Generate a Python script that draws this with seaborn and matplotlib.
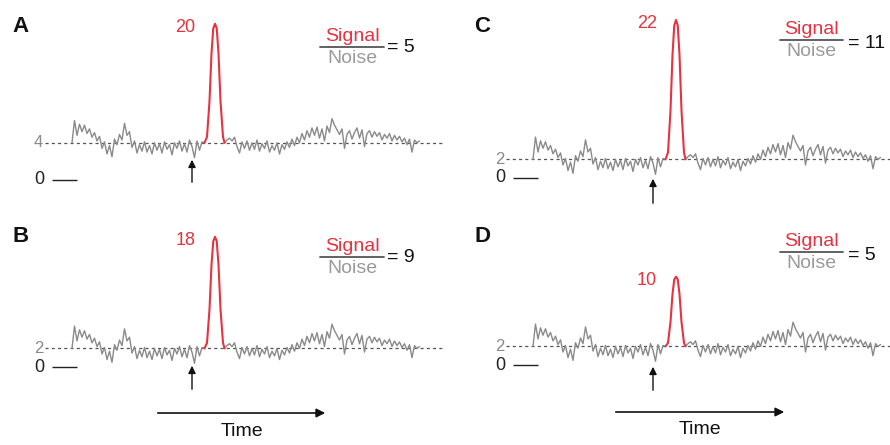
import numpy as np
import pandas as pd
import matplotlib
matplotlib.use('Agg')
import matplotlib.pyplot as plt
import seaborn as sns
from matplotlib.lines import Line2D
from matplotlib.patches import FancyArrowPatch

# --- data ---
panel_letters = ['A', 'B', 'C', 'D']
baselines = [4, 2, 2, 2]            # noise level (dashed line)
peak_labels = [20, 18, 22, 10]      # numbers written beside the peaks
peak_tops = [16.8, 14.0, 17.0, 9.5] # drawn height of the red peak
ratios = [5, 9, 11, 5]              # signal / noise

# noise around the baseline, one sample every time step (same trace in all panels)
noise_pre = [0.0, 2.4, 0.8, 2.0, 1.2, 1.9, 1.0, 1.5, 0.6, 1.1,
             0.2, 0.7, -0.6, 0.1, -1.2, -0.3, -1.5, 0.4, -0.2, 0.9,
             0.3, 2.1, 0.8, 1.2, -0.5, 0.2, -1.1, -0.2, -0.9, 0.1,
             -1.0, -0.3, -1.2, 0.0, -0.8, -0.1, -1.1, 0.1, -0.7, -0.2,
             -1.3, 0.0, -0.6, 0.2, -0.9, -0.1, -1.0, 0.3, -0.4, -1.6,
             0.2, -0.8, 0.1, 0.0]
noise_post = [0.0, 0.3, 0.5, 0.2, 0.6, -0.4, -1.1, 0.1, -0.6, 0.2,
              -0.8, 0.0, -0.7, 0.3, -0.9, -0.1, -0.6, 0.2, -1.0, -0.3,
              -0.8, 0.0, -1.2, -0.2, -0.7, 0.1, -0.5, 0.4, -0.3, 0.6,
              0.0, 1.0, 0.3, 1.3, 0.6, 1.6, 0.8, 1.7, 0.5, 1.5,
              0.2, 1.8, 1.1, 2.6, 1.9, 1.4, 0.9, 1.5, -0.6, 0.9,
              1.3, 0.4, 1.1, 1.6, 0.5, 1.4, -0.4, 1.0, 1.3, 0.6,
              1.2, 0.7, 1.1, 0.3, 0.9, 0.5, 1.0, 0.2, 0.8, 0.3,
              0.7, 0.1, 0.5, -0.2, 0.4, -1.0, 0.3, 0.0, 0.2]
post_start = 61

# red peak (fraction of its height above the baseline)
peak_t = [53, 54, 55, 55.8, 56.5, 57.2, 57.9, 58.6, 59.4, 60.4, 61]
peak_shape = [0.0, 0.05, 0.35, 0.75, 0.96, 1.0, 0.96, 0.75, 0.35, 0.05, 0.0]

arrow_t = 48

# --- layout (figure pixels) ---
W, H = 890, 445
ppu = 9.3                                   # pixels per unit
x_off = [0, 0, 461, 461]
zero_px = [180, 367, 178, 365]
letter_xy = [(12, 26), (12, 236), (474, 26), (474, 236)]
frac_x = [(320, 384), (320, 384), (780, 843), (780, 843)]
frac_y = [47, 257, 40, 252]
eq_xy = [(387, 48), (387, 258), (848, 44), (848, 256)]
up_arrow = [(157, 185), (363, 392), (176, 206), (364, 393)]
time_arrow = [((155, 328), 413, 432), ((613, 787), 412, 430)]

gray = '#8a8a8a'
red = '#e8323f'


def fx(x):
    return x / W


def fy(y):
    return 1 - y / H


sns.set_style('white')
plt.rcParams['font.family'] = ['Liberation Sans', 'DejaVu Sans']

fig = plt.figure(figsize=(W / 100, H / 100), dpi=100)

ymin, ymax = -3.5, 19
xmin, xmax = -28.8, 149.2
for k in range(4):
    base = baselines[k]
    bottom = zero_px[k] + (-ymin) * ppu
    height = (ymax - ymin) * ppu
    ax = fig.add_axes([fx(x_off[k]), fy(bottom), 445 / W, height / H])
    ax.set_facecolor('none')

    pre = pd.DataFrame({'t': np.arange(len(noise_pre)),
                        'y': base + np.array(noise_pre)})
    post = pd.DataFrame({'t': post_start + np.arange(len(noise_post)),
                         'y': base + np.array(noise_post)})
    pk = pd.DataFrame({'t': peak_t,
                       'y': base + np.array(peak_shape) * (peak_tops[k] - base)})

    ax.hlines(base, -11, 149.2, colors='#555555', linewidth=0.9,
              linestyles=(0, (2.5, 2.5)), zorder=1)
    sns.lineplot(data=pre, x='t', y='y', ax=ax, color=gray, linewidth=1.0, sort=False, zorder=2)
    sns.lineplot(data=post, x='t', y='y', ax=ax, color=gray, linewidth=1.0, sort=False, zorder=2)
    sns.lineplot(data=pk, x='t', y='y', ax=ax, color=red, linewidth=1.5, sort=False, zorder=3)

    # zero mark
    ax.hlines(0, -8, 2, colors='#222222', linewidth=1.0)
    ax.text(-11, 0, '0', ha='right', va='center', fontsize=13, color='#222222')
    ax.text(-11.5, base, str(base), ha='right', va='center', fontsize=12, color=gray)

    # peak value
    ax.text(49.5, peak_tops[k] - 0.4, str(peak_labels[k]), ha='right', va='center',
            fontsize=13, color=red)

    ax.set_xlim(xmin, xmax)
    ax.set_ylim(ymin, ymax)
    ax.axis('off')

    # panel letter
    fig.text(fx(letter_xy[k][0]), fy(letter_xy[k][1]), panel_letters[k],
             fontsize=16, fontweight='bold', ha='left', va='center', color='#111111')

    # signal / noise fraction
    x0, x1 = frac_x[k]
    yb = frac_y[k]
    fig.add_artist(Line2D([fx(x0), fx(x1)], [fy(yb), fy(yb)], color='#555555',
                          linewidth=1.3, transform=fig.transFigure))
    fig.text(fx((x0 + x1) / 2), fy(yb - 2), 'Signal', ha='center', va='bottom',
             fontsize=14, color=red)
    fig.text(fx((x0 + x1) / 2), fy(yb + 3), 'Noise', ha='center', va='top',
             fontsize=14, color='#9a9a9a')
    fig.text(fx(eq_xy[k][0]), fy(eq_xy[k][1]), f'= {ratios[k]}', ha='left', va='center',
             fontsize=14, color='#111111')

    # event arrow
    tip, tail = up_arrow[k]
    ax_x = x_off[k] + 72 + arrow_t * 2.5
    fig.add_artist(FancyArrowPatch(
        (fx(ax_x), fy(tail)), (fx(ax_x), fy(tip)), transform=fig.transFigure,
        arrowstyle='-|>', mutation_scale=11, color='#111111', linewidth=1.0))

# time arrows
for (xa, xb), ya, yt in time_arrow:
    fig.add_artist(FancyArrowPatch(
        (fx(xa), fy(ya)), (fx(xb), fy(ya)), transform=fig.transFigure,
        arrowstyle='-|>', mutation_scale=13, color='#111111', linewidth=1.2))
    fig.text(fx((xa + xb) / 2), fy(yt), 'Time', ha='center', va='center',
             fontsize=14, color='#111111')

fig.savefig('out.png', dpi=100)
